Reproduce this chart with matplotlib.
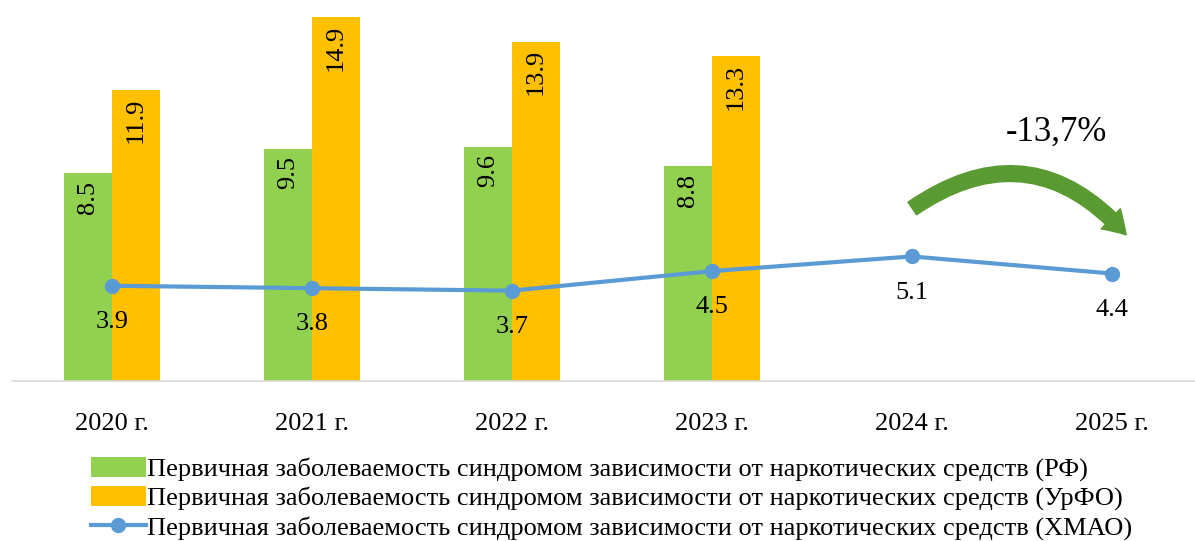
import matplotlib.pyplot as plt
import numpy as np
from matplotlib.patches import FancyArrowPatch

plt.rcParams['font.family'] = ['Liberation Serif', 'DejaVu Serif']

years = ['2020 г.', '2021 г.', '2022 г.', '2023 г.', '2024 г.', '2025 г.']
rf = [8.5, 9.5, 9.6, 8.8]
urfo = [11.9, 14.9, 13.9, 13.3]
hmao = [3.9, 3.8, 3.7, 4.5, 5.1, 4.4]

lbl = 'Первичная заболеваемость синдромом зависимости от наркотических средств'
names = [lbl + ' (РФ)', lbl + ' (УрФО)', lbl + ' (ХМАО)']

green = '#92D050'
orange = '#FFC000'
blue = '#5B9BD5'

fig = plt.figure(figsize=(11.95, 5.41), dpi=100)
ax = fig.add_axes([12 / 1195, 1 - 381 / 541, 1 - 12 / 1195, 381 / 541])

x = np.arange(len(years))
xb = np.arange(len(rf))
w = 0.24
b1 = ax.bar(xb - w / 2, rf, w, color=green, label=names[0])
b2 = ax.bar(xb + w / 2, urfo, w, color=orange, label=names[1])
ln, = ax.plot(x, hmao, color=blue, lw=3, marker='o', ms=10, label=names[2])

for bars, vals in ((b1, rf), (b2, urfo)):
    for r, v in zip(bars, vals):
        ax.text(r.get_x() + r.get_width() / 2, v - 0.3, f'{v}', rotation=90,
                ha='center', va='top', fontsize=19, color='black')

for xi, v in zip(x, hmao):
    ax.annotate(f'{v}', (xi, v), xytext=(0, -26), textcoords='offset points',
                ha='center', va='center', fontsize=19)

ax.set_xlim(-0.5, 5.415)
ax.set_ylim(0, 15.6)
ax.set_yticks([])
ax.set_xticks(x)
ax.set_xticklabels(years, fontsize=19)
ax.tick_params(axis='x', length=0, pad=23)
for s in ['top', 'right', 'left']:
    ax.spines[s].set_visible(False)
ax.spines['bottom'].set_color('#D9D9D9')
ax.spines['bottom'].set_linewidth(1.2)

# curved arrow 2024 -> 2025
arr = FancyArrowPatch((3.99, 7.0), (5.08, 5.9), connectionstyle='arc3,rad=-0.45',
                      arrowstyle='simple,head_width=20,head_length=16,tail_width=11',
                      color='#5A9A32', mutation_scale=1)
ax.add_patch(arr)
ax.text(4.72, 10.2, '-13,7%', ha='center', va='center', fontsize=25)

fig.legend(handles=[b1, b2, ln], labels=names, loc='upper left',
           bbox_to_anchor=(80 / 1195, 1 - 446 / 541), frameon=False,
           fontsize=19, handlelength=2.1, handleheight=0.8, handletextpad=0.05,
           labelspacing=0.17, borderaxespad=0)

fig.savefig('out.png', dpi=100)
